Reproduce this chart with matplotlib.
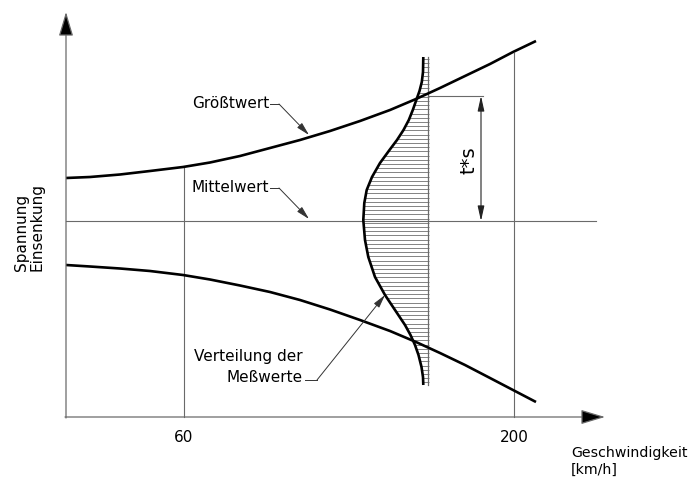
import numpy as np
import matplotlib.pyplot as plt

# schematic drawn in image-like units (x to the right, y downwards)
upper_x = [66, 90, 120, 150, 183, 210, 240, 270, 300, 330, 360, 390, 416, 440, 465, 490, 513, 536]
upper_y = [178, 177, 174.5, 171, 167, 162.5, 156, 148, 140, 131, 121, 110, 99, 88, 76, 64, 52, 41]
lower_x = [66, 90, 120, 150, 183, 210, 240, 270, 300, 330, 360, 390, 416, 440, 465, 490, 513, 536]
lower_y = [265, 266.5, 268.5, 271, 275, 279.5, 285.5, 292, 300, 309.5, 320, 331, 342, 353, 365, 378, 390, 402]
dist_y = [57, 72, 82, 91, 100, 110, 120, 130, 140, 150, 163, 177, 190, 203, 220,
          240, 257, 277, 295, 310, 325, 335, 345, 355, 367, 377, 385]
dist_x = [423.3, 423, 421.8, 419.5, 416.3, 412.8, 408.8, 403.5, 397, 389.5, 380, 372, 366.7, 364.3, 363.3,
          365, 368.3, 375, 385, 395, 405, 410.5, 415, 418.5, 421.5, 423, 423.3]

x0, y0 = 66, 417          # origin
mean_y = 221
base_x = 428              # baseline of distribution
speed_pos = [184, 514]
speed_labels = ['60', '200']
speed_top = [167, 53]
ts_top = 96

fig = plt.figure(figsize=(6.94, 4.79), dpi=100)
ax = fig.add_axes([0, 0, 1, 1])
ax.set_xlim(0, 694)
ax.set_ylim(479, 0)
ax.axis('off')

thin = '#6a6a6a'
fs = 11

# axes with arrows
ax.annotate('', xy=(x0, 12), xytext=(x0, y0 + 1),
            arrowprops=dict(arrowstyle='-|>,head_length=1.5,head_width=0.45',
                            lw=0.9, shrinkA=0, shrinkB=0,
                            mutation_scale=10, ec=thin, fc='black'))
ax.annotate('', xy=(605, y0), xytext=(x0 - 1, y0),
            arrowprops=dict(arrowstyle='-|>,head_length=1.5,head_width=0.45',
                            lw=0.9, shrinkA=0, shrinkB=0,
                            mutation_scale=10, ec=thin, fc='black'))

# mean line and speed verticals
ax.plot([x0, 596], [mean_y, mean_y], color=thin, lw=0.8)
for xp, yt, lab in zip(speed_pos, speed_top, speed_labels):
    ax.plot([xp, xp], [yt, y0], color=thin, lw=0.8)
    ax.text(xp, 438, lab, ha='center', va='center', fontsize=fs)

# hatching of distribution
yh = np.arange(59, 386, 4.2)
xl = np.interp(yh, dist_y, dist_x)
ax.hlines(yh, xl, base_x + 1.5, color='#7a7a7a', lw=0.65)
ax.plot([base_x, base_x], [dist_y[0], dist_y[-1]], color=thin, lw=0.9)

# curves
for cx, cy in [(upper_x, upper_y), (lower_x, lower_y), (dist_x, dist_y)]:
    ax.plot(cx, cy, color='black', lw=1.9, solid_capstyle='butt',
            solid_joinstyle='round')

# t*s dimension
ax.plot([base_x, 483], [ts_top, ts_top], color=thin, lw=0.8)
ax.annotate('', xy=(481, ts_top), xytext=(481, mean_y),
            arrowprops=dict(arrowstyle='<|-|>,head_length=0.9,head_width=0.2',
                            color='#222222', lw=0.8, shrinkA=0, shrinkB=0,
                            mutation_scale=10))
ax.text(469, 160, 't*s', rotation=90, ha='center', va='center', fontsize=14)

# labels with leader lines
lc = '#333333'
leader = dict(arrowstyle='-|>,head_length=0.8,head_width=0.2', color=lc,
              lw=0.7, shrinkA=0, shrinkB=0, mutation_scale=10)
ax.text(192, 103, 'Größtwert', ha='left', va='center', fontsize=fs)
ax.plot([270, 279], [104, 104], color=lc, lw=0.7)
ax.annotate('', xy=(309, 135), xytext=(279, 104), arrowprops=leader)

ax.text(192, 187, 'Mittelwert', ha='left', va='center', fontsize=fs)
ax.plot([270, 279], [188, 188], color=lc, lw=0.7)
ax.annotate('', xy=(309, 219), xytext=(279, 188), arrowprops=leader)

ax.text(303, 367, 'Verteilung der\nMeßwerte', ha='right', va='center',
        fontsize=fs, multialignment='right', linespacing=1.55)
ax.plot([305, 317], [380, 380], color=lc, lw=0.7)
ax.annotate('', xy=(385, 295), xytext=(317, 380), arrowprops=leader)

# axis titles
ax.text(29, 271, 'Spannung\nEinsenkung', rotation=90, ha='center', va='bottom',
        fontsize=fs, multialignment='left', linespacing=1.05)
ax.text(571, 453, 'Geschwindigkeit', ha='left', va='center', fontsize=10.2)
ax.text(571, 470, '[km/h]', ha='left', va='center', fontsize=10.2)

fig.savefig('out.png', dpi=100)
